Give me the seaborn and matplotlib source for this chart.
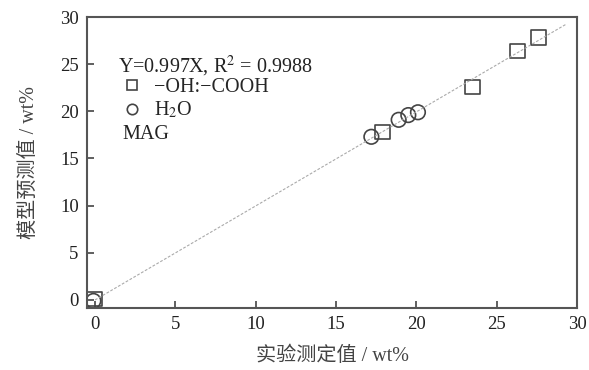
import numpy as np
import pandas as pd
import matplotlib
matplotlib.use("Agg")
import matplotlib.pyplot as plt
import seaborn as sns
from matplotlib.lines import Line2D

# ---- data ----
cooh_measured = [-0.05, 17.9, 23.5, 26.3, 27.6]
cooh_predicted = [0.1, 17.8, 22.6, 26.4, 27.8]
h2o_measured = [-0.1, 17.2, 18.9, 19.5, 20.1]
h2o_predicted = [-0.1, 17.3, 19.1, 19.6, 19.9]
fit_slope = 0.997
fit_x = [0.0, 29.3]
ticks = [0, 5, 10, 15, 20, 25, 30]

sns.set_theme(style="ticks")
plt.rcParams['font.family'] = ['Liberation Serif', 'Noto Sans CJK SC']
plt.rcParams['mathtext.fontset'] = 'stix'

df = pd.DataFrame({
    "measured": cooh_measured + h2o_measured,
    "predicted": cooh_predicted + h2o_predicted,
    "group": ["-OH:-COOH"] * len(cooh_measured) + ["H2O"] * len(h2o_measured),
})
fit_df = pd.DataFrame({"x": fit_x, "y": [fit_slope * v for v in fit_x]})

fig = plt.figure(figsize=(5.89, 3.70), dpi=100)
ax = fig.add_axes([87/589, 1 - 307.5/370, 490/589, 290.5/370])

sns.lineplot(data=fit_df, x="x", y="y", ax=ax, color="#aaaaaa", lw=0.8,
             linestyle=(0, (2.5, 1.5)), legend=False)
sns.scatterplot(data=df, x="measured", y="predicted", style="group",
                markers={"-OH:-COOH": "s", "H2O": "o"}, s=110,
                facecolor="none", edgecolor="#444444", linewidth=1.2,
                ax=ax, legend=False)

ax.set_xlim(-0.5, 30)
ax.set_ylim(-0.8, 30)
ax.set_xticks(ticks)
ax.set_yticks(ticks)
ax.tick_params(direction="in", length=5, width=1.2, colors="#444444",
               labelsize=13.5, labelcolor="#222222", pad=6)
for sp in ax.spines.values():
    sp.set_linewidth(1.5)
    sp.set_color("#555555")

ax.set_xlabel("实验测定值 / wt%", fontsize=14.5, color="#444444", labelpad=10)
ax.set_ylabel("模型预测值 / wt%", fontsize=14.5, color="#444444", labelpad=15)

ax.text(0.063, 0.831, "Y=0.997X, R$^{2}$ = 0.9988", transform=ax.transAxes,
        fontsize=14.5, va="center", ha="left", color="#222222")
ax.text(0.072, 0.597, "MAG", transform=ax.transAxes,
        fontsize=14.5, va="center", ha="left", color="#222222")
handles = [
    Line2D([], [], marker="s", ls="none", mfc="none", mec="#444444", mew=1.2, ms=7.5),
    Line2D([], [], marker="o", ls="none", mfc="none", mec="#444444", mew=1.2, ms=7.5),
]
ax.legend(handles, ["−OH:−COOH", "H$_2$O"], loc="center left",
          bbox_to_anchor=(0.05, 0.717), frameon=False, fontsize=14.5,
          handletextpad=0.5, labelspacing=0.15, borderaxespad=0,
          handlelength=1.2)

fig.savefig("out.png", dpi=100)
